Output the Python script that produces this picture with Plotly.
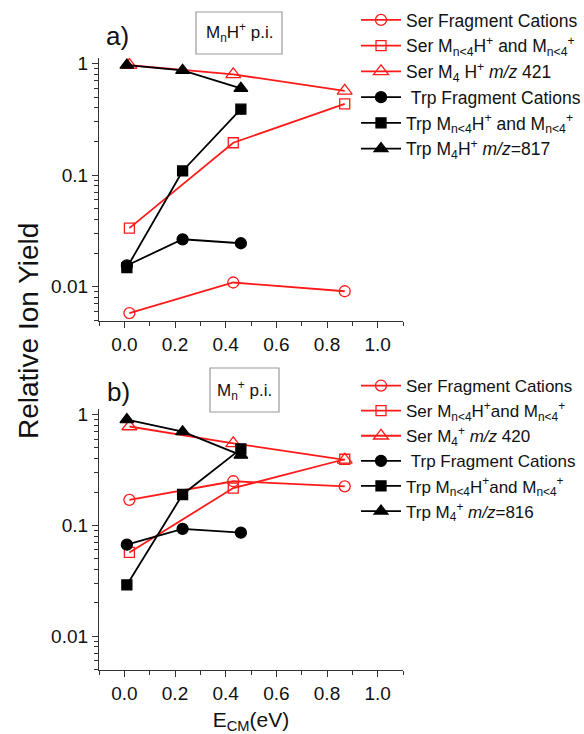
import plotly.graph_objects as go

# ---------------- data ----------------
ser_x = [0.02, 0.43, 0.87]
trp_x = [0.01, 0.23, 0.46]

# panel a) MnH+ p.i.
a_ser_frag = [0.0058, 0.0109, 0.0091]
a_ser_mn = [0.0335, 0.195, 0.435]
a_ser_m4 = [0.97, 0.80, 0.57]
a_trp_frag = [0.0155, 0.0266, 0.0245]
a_trp_mn = [0.0148, 0.109, 0.39]
a_trp_m4 = [0.97, 0.87, 0.60]

# panel b) Mn+ p.i.
b_ser_frag = [0.17, 0.25, 0.225]
b_ser_mn = [0.057, 0.217, 0.395]
b_ser_m4 = [0.78, 0.55, 0.39]
b_trp_frag = [0.067, 0.093, 0.086]
b_trp_mn = [0.029, 0.19, 0.49]
b_trp_m4 = [0.90, 0.70, 0.43]

names_a = [
    "Ser Fragment Cations",
    "Ser M<sub>n&lt;4</sub>H<sup>+</sup> and M<sub>n&lt;4</sub><sup>+</sup>",
    "Ser M<sub>4</sub> H<sup>+</sup> <i>m/z</i> 421",
    "\u00a0Trp Fragment Cations",
    "Trp M<sub>n&lt;4</sub>H<sup>+</sup> and M<sub>n&lt;4</sub><sup>+</sup>",
    "Trp M<sub>4</sub>H<sup>+</sup> <i>m/z</i>=817",
]
names_b = [
    "Ser Fragment Cations",
    "Ser M<sub>n&lt;4</sub>H<sup>+</sup>and M<sub>n&lt;4</sub><sup>+</sup>",
    "Ser M<sub>4</sub><sup>+</sup> <i>m/z</i> 420",
    "\u00a0Trp Fragment Cations",
    "Trp M<sub>n&lt;4</sub>H<sup>+</sup>and M<sub>n&lt;4</sub><sup>+</sup>",
    "Trp M<sub>4</sub><sup>+</sup> <i>m/z</i>=816",
]

x_ticks = [0.0, 0.2, 0.4, 0.6, 0.8, 1.0]
x_ticktext = ["0.0", "0.2", "0.4", "0.6", "0.8", "1.0"]
y_ticks = [0.01, 0.1, 1]
y_ticktext = ["0.01", "0.1", "1"]

RED = "#ff1a1a"
BLACK = "#000000"
FONT = "Liberation Sans, Arial, sans-serif"

# styles: (color, symbol, size)
styles = [
    (RED, "circle-open", 11),
    (RED, "square-open", 10),
    (RED, "triangle-up-open", 13),
    (BLACK, "circle", 11),
    (BLACK, "square", 10),
    (BLACK, "triangle-up", 12),
]

fig = go.Figure()

def add_panel(series, names, xa, ya, legend):
    xs = [ser_x, ser_x, ser_x, trp_x, trp_x, trp_x]
    for (color, sym, size), x, y, name in zip(styles, xs, series, names):
        fig.add_trace(go.Scatter(
            x=x, y=y, name=name, mode="lines+markers",
            line=dict(color=color, width=1.8),
            marker=dict(symbol=sym, size=size, color=color,
                        line=dict(color=color, width=1.3)),
            xaxis=xa, yaxis=ya, legend=legend,
        ))

add_panel([a_ser_frag, a_ser_mn, a_ser_m4, a_trp_frag, a_trp_mn, a_trp_m4],
          names_a, "x", "y", "legend")
add_panel([b_ser_frag, b_ser_mn, b_ser_m4, b_trp_frag, b_trp_mn, b_trp_m4],
          names_b, "x2", "y2", "legend2")

# layout geometry helpers (pixel -> paper)
L, R, T, B = 99, 181, 58, 64
W, H = 584, 734
PW = W - L - R
PH = H - T - B
def px(x):
    return (x - L) / PW
def py(y):
    return (H - B - y) / PH

xaxis_common = dict(
    range=[-0.1, 1.1], tickvals=x_ticks, ticktext=x_ticktext,
    showline=True, linecolor="#333", linewidth=1.2, mirror=False,
    ticks="outside", ticklen=6, tickcolor="#333", showgrid=False, zeroline=False,
    tickfont=dict(size=19, color="#111", family=FONT),
    minor=dict(ticks="outside", ticklen=4, dtick=0.1, tickcolor="#333", showgrid=False),
)
yaxis_common = dict(
    type="log", range=[-2.305, 0.05], tickvals=y_ticks, ticktext=y_ticktext,
    showline=True, linecolor="#333", linewidth=1.2,
    ticks="outside", ticklen=6, tickcolor="#333", showgrid=False, zeroline=False,
    tickfont=dict(size=19, color="#111", family=FONT),
    minor=dict(ticks="outside", ticklen=3.5, dtick="D1", tickcolor="#333", showgrid=False),
)

top_lo = py(320.7)
bot_hi = py(409)

fig.update_layout(
    width=W, height=H,
    margin=dict(l=L, r=R, t=T, b=B, autoexpand=False),
    paper_bgcolor="white", plot_bgcolor="white",
    font=dict(family=FONT, color="#111"),
    xaxis=dict(domain=[0, 1], anchor="y", **xaxis_common),
    yaxis=dict(domain=[top_lo, 1], anchor="x", **yaxis_common),
    xaxis2=dict(domain=[0, 1], anchor="y2",
                title=dict(text="E<sub>CM</sub>(eV)", font=dict(size=21, family=FONT), standoff=17),
                **xaxis_common),
    yaxis2=dict(domain=[0, bot_hi], anchor="x2", **yaxis_common),
    legend=dict(x=px(356), y=py(2), xanchor="left", yanchor="top",
                font=dict(size=17.5, family=FONT, color="#111"),
                itemwidth=40, bgcolor="rgba(0,0,0,0)", tracegroupgap=0),
    legend2=dict(x=px(356), y=py(368), xanchor="left", yanchor="top",
                 font=dict(size=17, family=FONT, color="#111"),
                 itemwidth=40, bgcolor="rgba(0,0,0,0)", tracegroupgap=0),
    showlegend=True,
)

annotations = [
    dict(text="a)", x=px(117), y=py(36), font=dict(size=26, family=FONT)),
    dict(text="b)", x=px(118), y=py(392), font=dict(size=26, family=FONT)),
    dict(text="M<sub>n</sub>H<sup>+</sup> p.i.", x=px(239), y=py(33), font=dict(size=17, family=FONT)),
    dict(text="M<sub>n</sub><sup>+</sup> p.i.", x=px(244.5), y=py(390), font=dict(size=17, family=FONT)),
    dict(text="Relative Ion Yield", x=px(28), y=py(331), textangle=-90, font=dict(size=28, family=FONT)),
]
for a in annotations:
    fig.add_annotation(xref="paper", yref="paper", showarrow=False,
                       xanchor="center", yanchor="middle", **a)

for (x0, x1, y0, y1) in [(196, 282, 12, 54), (210, 279, 368, 412)]:
    fig.add_shape(type="rect", xref="paper", yref="paper",
                  x0=px(x0), x1=px(x1), y0=py(y1), y1=py(y0),
                  line=dict(color="#999", width=1.2), fillcolor="rgba(0,0,0,0)")

fig.write_html("out.html")
